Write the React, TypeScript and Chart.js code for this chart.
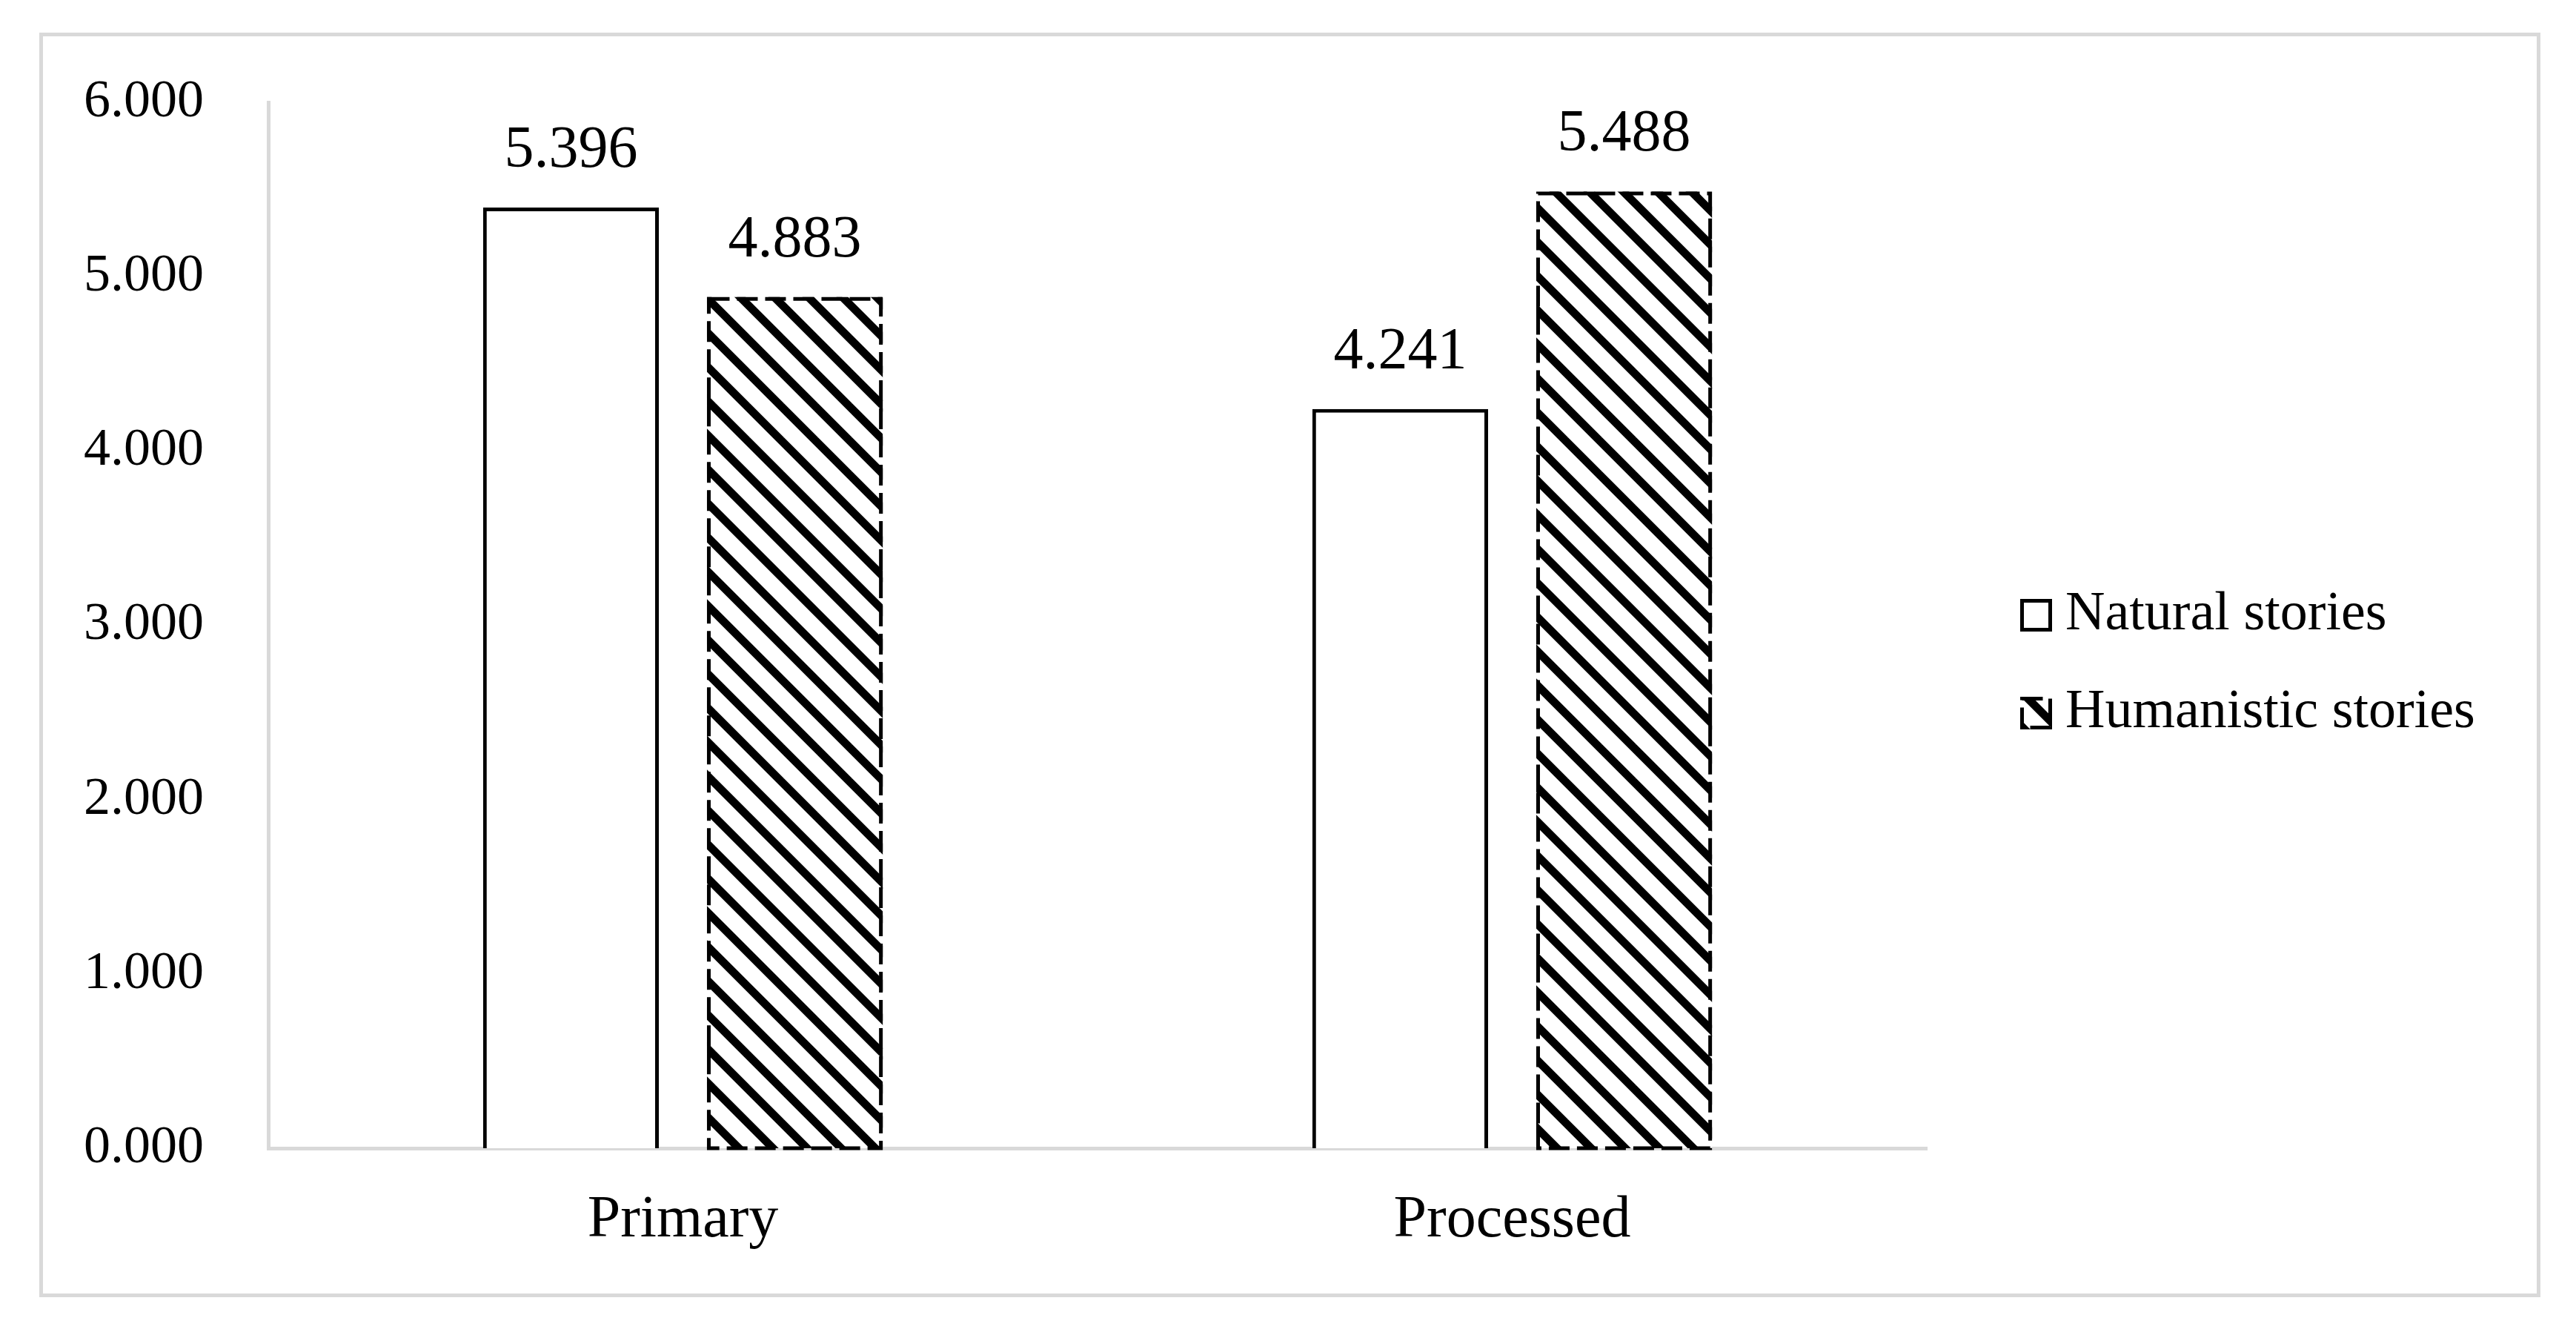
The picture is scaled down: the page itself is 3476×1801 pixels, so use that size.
import { useEffect, useRef } from "react"
import { Chart, registerables } from "chart.js"
import type { Plugin } from "chart.js"

Chart.register(...registerables)

const categories = ["Primary", "Processed"]
const seriesNames = ["Natural stories", "Humanistic stories"]
const naturalValues = [5.396, 4.241]
const humanisticValues = [4.883, 5.488]
const yTicks = [0, 1, 2, 3, 4, 5, 6]

const W = 3476
const H = 1801
const FONT = "'Liberation Serif', 'Times New Roman', serif"
const AXIS_GRAY = "#d9d9d9"

// diagonal "\" hatch like Excel's wide downward diagonal
function makeHatch(): CanvasPattern | string {
  const size = 46
  const c = document.createElement("canvas")
  c.width = size
  c.height = size
  const g = c.getContext("2d")
  if (!g) return "#000"
  g.fillStyle = "#fff"
  g.fillRect(0, 0, size, size)
  g.strokeStyle = "#000"
  g.lineWidth = 11
  for (const k of [-1, 0, 1]) {
    g.beginPath()
    g.moveTo(-size, -size + k * size)
    g.lineTo(2 * size, 2 * size + k * size)
    g.stroke()
  }
  return g.createPattern(c, "repeat") ?? "#000"
}

const dashedOutline: Plugin<"bar"> = {
  id: "dashedOutline",
  afterDatasetsDraw(chart) {
    const { ctx } = chart
    chart.data.datasets.forEach((ds: any, i) => {
      if (!ds.outlineDash) return
      const meta = chart.getDatasetMeta(i)
      ctx.save()
      ctx.strokeStyle = "#000"
      ctx.lineWidth = 5
      ctx.setLineDash(ds.outlineDash)
      meta.data.forEach((bar: any) => {
        const { x, y, base, width } = bar.getProps(["x", "y", "base", "width"], true)
        const lw = 5
        ctx.strokeRect(x - width / 2 + lw / 2, y + lw / 2, width - lw, base - y - lw / 2)
      })
      ctx.restore()
    })
  },
}

const valueLabels: Plugin<"bar"> = {
  id: "valueLabels",
  afterDatasetsDraw(chart) {
    const { ctx } = chart
    ctx.save()
    ctx.font = `80px ${FONT}`
    ctx.fillStyle = "#000"
    ctx.textAlign = "center"
    ctx.textBaseline = "alphabetic"
    chart.data.datasets.forEach((ds, i) => {
      const meta = chart.getDatasetMeta(i)
      meta.data.forEach((bar, j) => {
        const v = ds.data[j] as number
        ctx.fillText(v.toFixed(3), bar.x, bar.y - 55)
      })
    })
    ctx.restore()
  },
}

const sideLegend: Plugin<"bar"> = {
  id: "sideLegend",
  afterDraw(chart) {
    const { ctx, chartArea } = chart
    const x0 = chartArea.right + 126
    const firstY = 830
    const rowGap = 132
    ctx.save()
    ctx.font = `74px ${FONT}`
    ctx.textAlign = "left"
    ctx.textBaseline = "middle"
    chart.data.datasets.forEach((ds: any, i) => {
      const cy = firstY + i * rowGap
      const bw = 43
      const bh = 44
      ctx.fillStyle = ds.backgroundColor
      ctx.fillRect(x0, cy - bh / 2, bw, bh)
      ctx.strokeStyle = "#000"
      ctx.lineWidth = 5
      ctx.setLineDash(ds.outlineDash ?? [])
      ctx.strokeRect(x0 + 2.5, cy - bh / 2 + 2.5, bw - 5, bh - 5)
      ctx.setLineDash([])
      ctx.fillStyle = "#000"
      ctx.fillText(ds.label, x0 + 61, cy)
    })
    ctx.restore()
  },
}

export default function App() {
  const canvasRef = useRef<HTMLCanvasElement>(null)

  useEffect(() => {
    const canvas = canvasRef.current
    if (!canvas) return
    const hatch = makeHatch()

    const chart = new Chart(canvas, {
      type: "bar",
      data: {
        labels: categories,
        datasets: [
          {
            label: seriesNames[0],
            data: naturalValues,
            backgroundColor: "#ffffff",
            borderColor: "#000000",
            borderWidth: 5,
          },
          {
            label: seriesNames[1],
            data: humanisticValues,
            backgroundColor: hatch as any,
            borderWidth: 0,
            outlineDash: [28, 10],
          } as any,
        ],
      },
      options: {
        responsive: false,
        devicePixelRatio: 1,
        animation: false,
        layout: { padding: { left: 112, right: 876, top: 138, bottom: 112 } },
        datasets: { bar: { categoryPercentage: 0.54, barPercentage: 0.785 } },
        plugins: {
          legend: { display: false },
          tooltip: { enabled: false },
        },
        scales: {
          x: {
            grid: { display: false, drawTicks: false },
            border: { display: true, color: AXIS_GRAY, width: 5 },
            ticks: {
              color: "#000",
              padding: 58,
              font: { family: FONT, size: 80, lineHeight: 1 },
            },
            afterFit: (scale) => {
              scale.height = 140
            },
          },
          y: {
            min: 0,
            max: 6,
            grid: { display: false, drawTicks: false },
            border: { display: true, color: AXIS_GRAY, width: 5 },
            afterBuildTicks: (axis) => {
              axis.ticks = yTicks.map((v) => ({ value: v }))
            },
            ticks: {
              color: "#000",
              padding: 87,
              font: { family: FONT, size: 72, lineHeight: 1 },
              callback: (v) => Number(v).toFixed(3),
            },
            afterFit: (scale) => {
              scale.width = 250
            },
          },
        },
      },
      plugins: [dashedOutline, valueLabels, sideLegend],
    })

    return () => {
      chart.destroy()
    }
  }, [])

  return (
    <div style={{ position: "fixed", left: 0, top: 0, width: W, height: H, background: "#fff" }}>
      <canvas ref={canvasRef} width={W} height={H} style={{ display: "block", width: W, height: H }} />
      <div
        style={{
          position: "absolute",
          left: 53,
          top: 44,
          width: 3375,
          height: 1706,
          border: `5px solid ${AXIS_GRAY}`,
          boxSizing: "border-box",
          pointerEvents: "none",
        }}
      />
    </div>
  )
}
